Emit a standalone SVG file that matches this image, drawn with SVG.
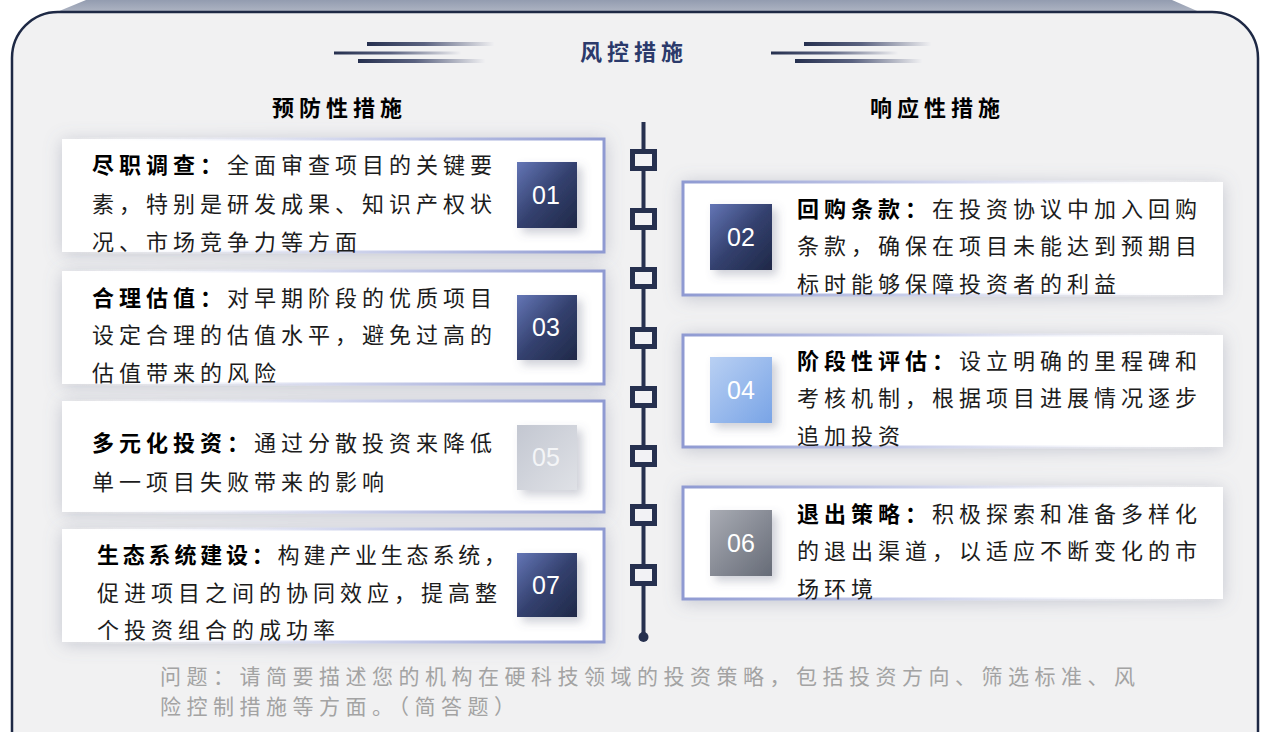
<svg xmlns="http://www.w3.org/2000/svg" width="1262" height="732" viewBox="0 0 1262 732">
<style>
.t{font-family:"Noto Sans CJK SC","Noto Sans",sans-serif;font-size:22px;letter-spacing:5px;fill:#1c1c1c}
.b{font-weight:bold;fill:#000}
.head{font-family:"Noto Sans CJK SC","Noto Sans",sans-serif;font-size:22px;font-weight:bold;letter-spacing:5px;fill:#000}
.num{font-family:"Liberation Sans",Arial,sans-serif;font-size:25px;fill:#fff;text-anchor:middle}
.q{font-family:"Noto Sans CJK SC","Noto Sans",sans-serif;font-size:21px;letter-spacing:5.5px;fill:#a3a3a3}
.cardL{fill:#fff;stroke:url(#bL);stroke-width:3}
.cardR{fill:#fff;stroke:url(#bR);stroke-width:3}
.sq{fill:#f2f2f5;stroke:#26304f;stroke-width:5}
</style>
<defs>
<linearGradient id="topbar" x1="0" y1="0" x2="0" y2="1">
<stop offset="0" stop-color="#939cb0"/><stop offset="1" stop-color="#b3b9c6"/>
</linearGradient>
<linearGradient id="hl" x1="0" y1="0" x2="1" y2="0">
<stop offset="0" stop-color="#26304f"/><stop offset="0.45" stop-color="#5a6280"/><stop offset="1" stop-color="#f0f0f2"/>
</linearGradient>
<linearGradient id="bL" x1="0" y1="0" x2="1" y2="0">
<stop offset="0" stop-color="#ffffff" stop-opacity="0"/><stop offset="0.5" stop-color="#d4d8ee"/><stop offset="1" stop-color="#8f9ad2"/>
</linearGradient>
<linearGradient id="bR" x1="1" y1="0" x2="0" y2="0">
<stop offset="0" stop-color="#ffffff" stop-opacity="0"/><stop offset="0.5" stop-color="#d4d8ee"/><stop offset="1" stop-color="#8f9ad2"/>
</linearGradient>
<linearGradient id="gDark" x1="0" y1="0" x2="1" y2="1">
<stop offset="0" stop-color="#6476b6"/><stop offset="0.5" stop-color="#34416f"/><stop offset="1" stop-color="#1f2847"/>
</linearGradient>
<linearGradient id="gLight" x1="0" y1="0" x2="1" y2="1">
<stop offset="0" stop-color="#c3c7d1"/><stop offset="1" stop-color="#dfe1e6"/>
</linearGradient>
<linearGradient id="gBlue" x1="0" y1="0" x2="1" y2="1">
<stop offset="0" stop-color="#b9d0f3"/><stop offset="1" stop-color="#79a4e6"/>
</linearGradient>
<linearGradient id="gGray" x1="0" y1="0" x2="1" y2="1">
<stop offset="0" stop-color="#a9acb4"/><stop offset="1" stop-color="#666b77"/>
</linearGradient>
<filter id="shCard" x="-10%" y="-30%" width="120%" height="160%">
<feDropShadow dx="0" dy="2" stdDeviation="9" flood-color="#6f7690" flood-opacity="0.35"/>
</filter>
<filter id="shBadge" x="-40%" y="-40%" width="180%" height="180%">
<feDropShadow dx="5" dy="5" stdDeviation="5" flood-color="#59607a" flood-opacity="0.3"/>
</filter>
</defs>

<rect width="1262" height="732" fill="#ffffff"/>
<polygon points="52,14 86,0 1172,0 1204,14" fill="url(#topbar)"/>
<rect x="12" y="12" width="1246" height="780" rx="46" ry="46" fill="#f1f1f2" stroke="#1e2945" stroke-width="2.5"/>

<g id="title">
<rect x="367" y="42" width="127" height="4" fill="url(#hl)"/>
<rect x="334" y="51.5" width="127" height="3" fill="url(#hl)"/>
<rect x="358" y="59" width="127" height="4" fill="url(#hl)"/>
<text x="580" y="60" class="head" style="fill:#2b3a6b">风控措施</text>
<rect x="804" y="42" width="127" height="4" fill="url(#hl)"/>
<rect x="771" y="51.5" width="127" height="3" fill="url(#hl)"/>
<rect x="795" y="59" width="127" height="4" fill="url(#hl)"/>
</g>

<g id="heading-left"><text x="272" y="116" class="head">预防性措施</text></g>
<g id="heading-right"><text x="870" y="116" class="head">响应性措施</text></g>

<g id="connectors">
<line x1="643.5" y1="122" x2="643.5" y2="637" stroke="#26304f" stroke-width="4"/>
<circle cx="643.5" cy="637" r="5" fill="#26304f"/>
<rect class="sq" x="632.5" y="151.5" width="22" height="17"/>
<rect class="sq" x="632.5" y="210.5" width="22" height="17"/>
<rect class="sq" x="632.5" y="269.5" width="22" height="17"/>
<rect class="sq" x="632.5" y="329.5" width="22" height="17"/>
<rect class="sq" x="632.5" y="388.5" width="22" height="17"/>
<rect class="sq" x="632.5" y="447.5" width="22" height="17"/>
<rect class="sq" x="632.5" y="506.5" width="22" height="17"/>
<rect class="sq" x="632.5" y="566.5" width="22" height="17"/>
</g>

<g id="node-01">
<rect class="cardL" x="62" y="139" width="542" height="113" filter="url(#shCard)"/>
<text class="t" x="92" y="173"><tspan class="b">尽职调查：</tspan>全面审查项目的关键要</text>
<text class="t" x="92" y="212">素，特别是研发成果、知识产权状</text>
<text class="t" x="92" y="250">况、市场竞争力等方面</text>
<rect x="517" y="162" width="60" height="66" fill="url(#gDark)" filter="url(#shBadge)"/>
<text class="num" x="546" y="204">01</text>
</g>

<g id="node-03">
<rect class="cardL" x="62" y="271" width="542" height="113" filter="url(#shCard)"/>
<text class="t" x="92" y="306"><tspan class="b">合理估值：</tspan>对早期阶段的优质项目</text>
<text class="t" x="92" y="343">设定合理的估值水平，避免过高的</text>
<text class="t" x="92" y="381">估值带来的风险</text>
<rect x="517" y="295" width="60" height="65" fill="url(#gDark)" filter="url(#shBadge)"/>
<text class="num" x="546" y="336">03</text>
</g>

<g id="node-05">
<rect class="cardL" x="62" y="401" width="542" height="111" filter="url(#shCard)"/>
<text class="t" x="92" y="451"><tspan class="b">多元化投资：</tspan>通过分散投资来降低</text>
<text class="t" x="92" y="490">单一项目失败带来的影响</text>
<rect x="517" y="425" width="60" height="65" fill="url(#gLight)" filter="url(#shBadge)"/>
<text class="num" x="546" y="466" style="fill:#f4f5f7">05</text>
</g>

<g id="node-07">
<rect class="cardL" x="62" y="529" width="542" height="113" filter="url(#shCard)"/>
<text class="t" x="97" y="563" style="letter-spacing:3.8px"><tspan class="b">生态系统建设：</tspan>构建产业生态系统，</text>
<text class="t" x="97" y="601">促进项目之间的协同效应，提高整</text>
<text class="t" x="97" y="638">个投资组合的成功率</text>
<rect x="517" y="553" width="60" height="64" fill="url(#gDark)" filter="url(#shBadge)"/>
<text class="num" x="546" y="594">07</text>
</g>

<g id="node-02">
<rect class="cardR" x="683" y="182" width="540" height="113" filter="url(#shCard)"/>
<rect x="710" y="204" width="62" height="66" fill="url(#gDark)" filter="url(#shBadge)"/>
<text class="num" x="741" y="246">02</text>
<text class="t" x="797" y="217"><tspan class="b">回购条款：</tspan>在投资协议中加入回购</text>
<text class="t" x="797" y="254">条款，确保在项目未能达到预期目</text>
<text class="t" x="797" y="292">标时能够保障投资者的利益</text>
</g>

<g id="node-04">
<rect class="cardR" x="683" y="335" width="540" height="112" filter="url(#shCard)"/>
<rect x="710" y="357" width="62" height="66" fill="url(#gBlue)" filter="url(#shBadge)"/>
<text class="num" x="741" y="399">04</text>
<text class="t" x="797" y="369"><tspan class="b">阶段性评估：</tspan>设立明确的里程碑和</text>
<text class="t" x="797" y="406">考核机制，根据项目进展情况逐步</text>
<text class="t" x="797" y="444">追加投资</text>
</g>

<g id="node-06">
<rect class="cardR" x="683" y="487" width="540" height="112" filter="url(#shCard)"/>
<rect x="710" y="510" width="62" height="66" fill="url(#gGray)" filter="url(#shBadge)"/>
<text class="num" x="741" y="552">06</text>
<text class="t" x="797" y="522"><tspan class="b">退出策略：</tspan>积极探索和准备多样化</text>
<text class="t" x="797" y="559">的退出渠道，以适应不断变化的市</text>
<text class="t" x="797" y="597">场环境</text>
</g>

<g id="question">
<text class="q" x="160" y="684">问题：请简要描述您的机构在硬科技领域的投资策略，包括投资方向、筛选标准、风</text>
<text class="q" x="160" y="714">险控制措施等方面。（简答题）</text>
</g>
</svg>
